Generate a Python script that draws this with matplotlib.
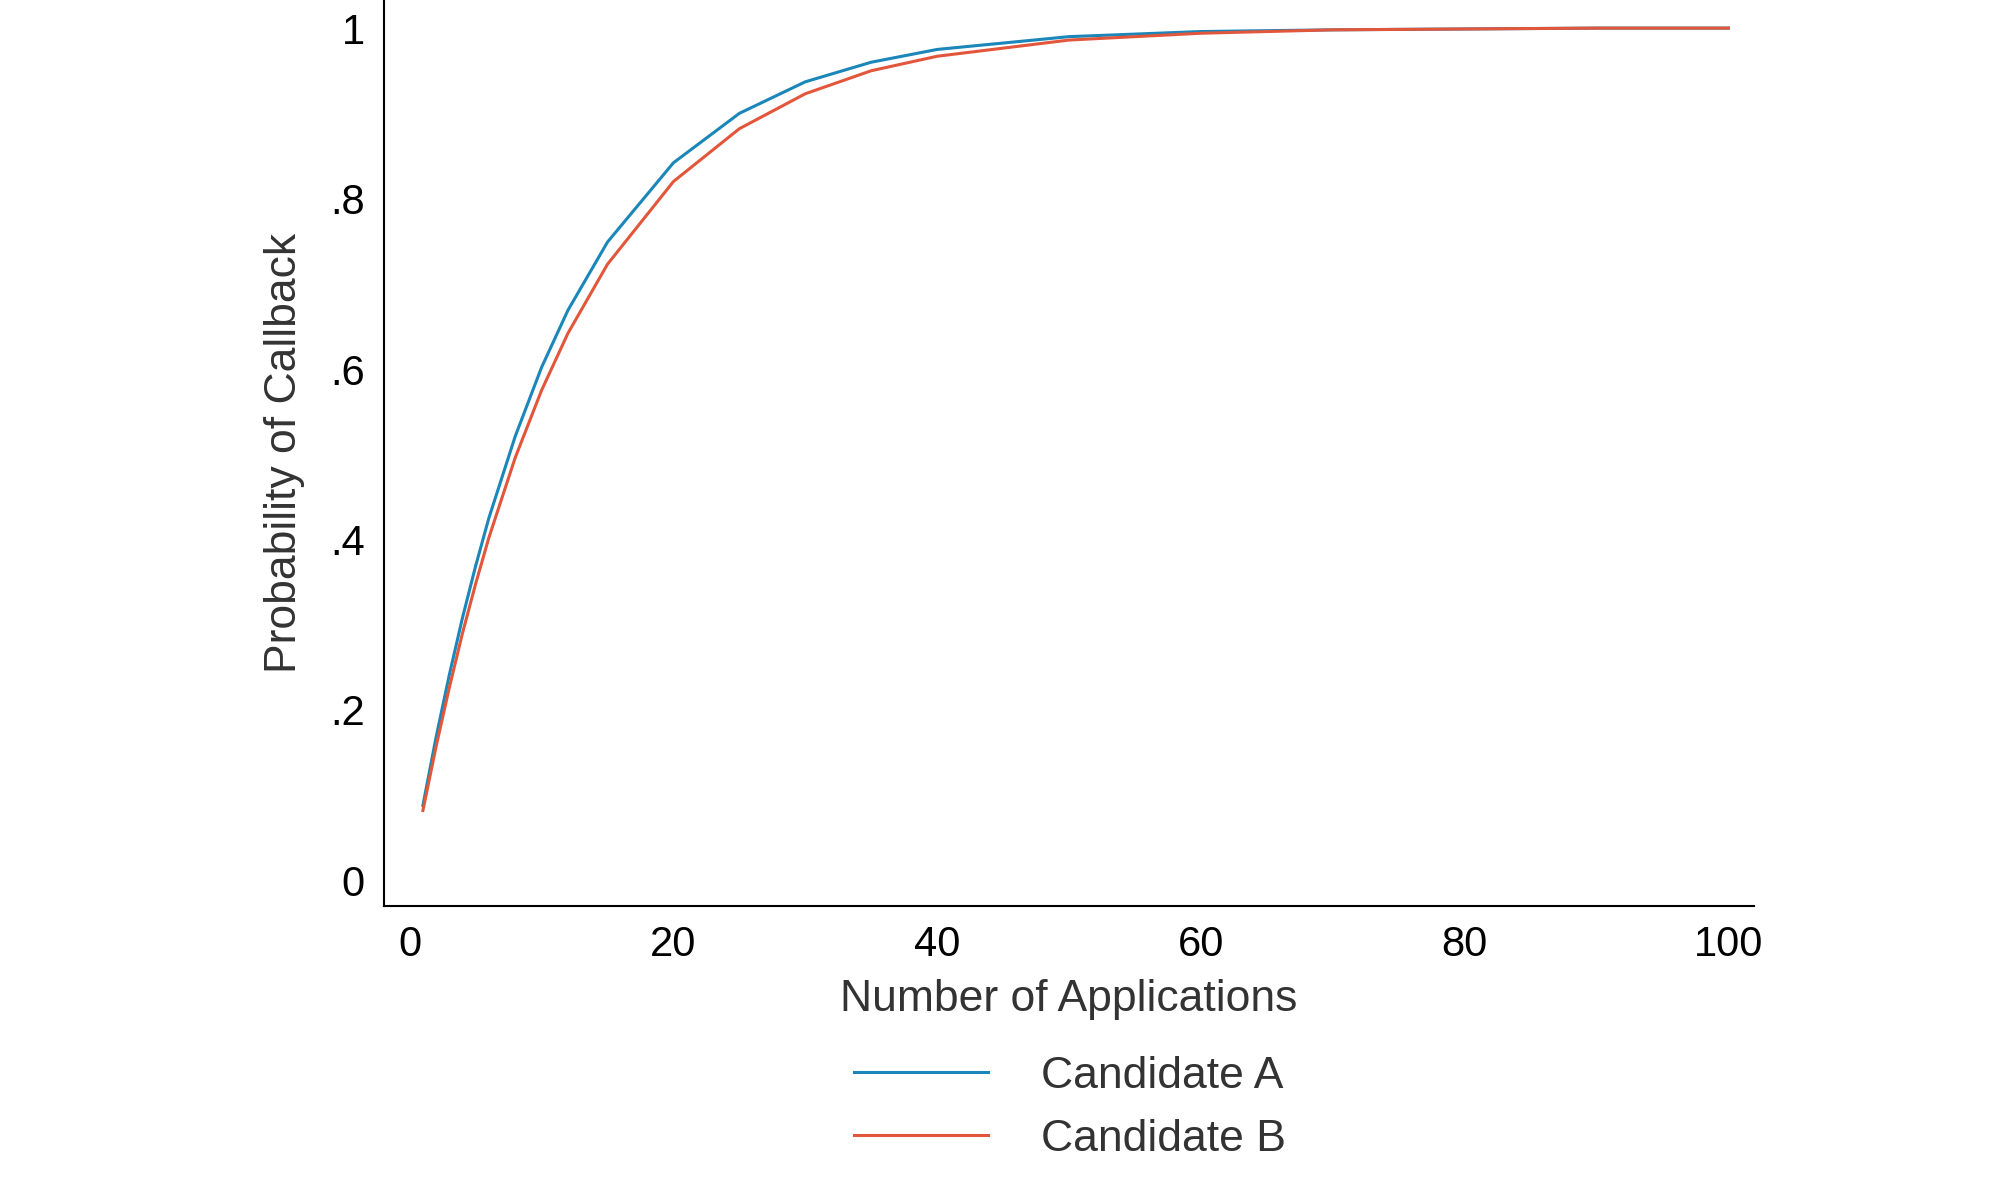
import matplotlib.pyplot as plt

plt.rcParams['font.family'] = ['Liberation Sans', 'DejaVu Sans']

apps = [1, 2, 3, 4, 5, 6, 8, 10, 12, 15, 20, 25, 30, 35, 40, 50, 60, 70, 80, 90, 100]
cand_a = [.088, .168, .241, .308, .369, .425, .521, .602, .669, .749, .842, .900, .937, .960,
          .975, .990, .996, .998, .999, 1.0, 1.0]
cand_b = [.082, .157, .226, .290, .348, .402, .496, .575, .642, .723, .820, .882, .923, .950,
          .967, .986, .994, .998, .999, 1.0, 1.0]
xticks = [0, 20, 40, 60, 80, 100]
yticks = [0, .2, .4, .6, .8, 1]
ylabels = ['0', '.2', '.4', '.6', '.8', '1']

fig = plt.figure(figsize=(20, 12), dpi=100)
ax = fig.add_axes([0.192, 0.245, 0.685, 0.755])

ax.plot(apps, cand_a, color='#1a86b9', lw=2.2, label='Candidate A')
ax.plot(apps, cand_b, color='#e2563b', lw=2.2, label='Candidate B')

ax.set_xlim(-1.95, 101.95)
ax.set_ylim(-0.03, 1.033)
ax.set_xticks(xticks)
ax.set_yticks(yticks, ylabels)
ax.tick_params(length=0, labelsize=30, pad=14)
for s in ['top', 'right']:
    ax.spines[s].set_visible(False)
for s in ['left', 'bottom']:
    ax.spines[s].set_linewidth(1.5)
ax.set_xlabel('Number of Applications', fontsize=32, color='#333333', labelpad=10)
ax.set_ylabel('Probability of Callback', fontsize=32, color='#333333', labelpad=18)

fig.legend(loc='lower center', bbox_to_anchor=(0.535, 0.0), frameon=False, fontsize=32,
           handlelength=3, handletextpad=1.2, labelcolor='#333333')

fig.savefig('out.png')
